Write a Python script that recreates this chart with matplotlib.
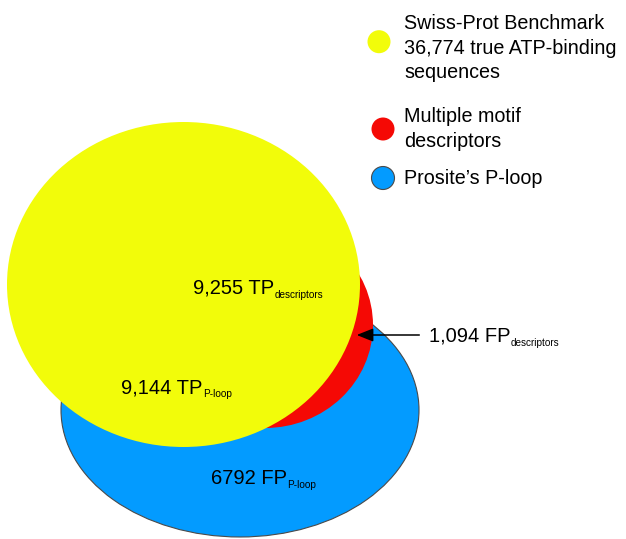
import matplotlib
matplotlib.use('Agg')
import matplotlib.pyplot as plt
from matplotlib.patches import Ellipse, Circle

FONT = ['Liberation Sans', 'DejaVu Sans']

# ---- data ----
set_names = ["Swiss-Prot Benchmark\n36,774 true ATP-binding\nsequences",
             "Multiple motif\ndescriptors",
             "Prosite\u2019s P-loop"]
set_colors = ['#F2FC0A', '#F50905', '#039BFF']
region_counts = ["9,255", "9,144", "6792", "1,094"]
region_kinds = ["TP", "TP", "FP", "FP"]
region_subs = ["descriptors", "P-loop", "P-loop", "descriptors"]

# ---- layout (pixel coordinates, y downward) ----
W, H = 626, 539
fig = plt.figure(figsize=(W / 100, H / 100), dpi=100)
ax = fig.add_axes([0, 0, 1, 1])
ax.set_xlim(0, W)
ax.set_ylim(H, 0)
ax.set_axis_off()

# ellipses: blue (bottom), red (middle), yellow (top)
ell_geom = {2: ((240, 410), 358, 254), 1: ((265, 325), 216, 206), 0: ((183.5, 284.5), 353, 325)}
for idx, z in [(2, 1), (1, 2), (0, 3)]:
    (cx, cy), w, h = ell_geom[idx]
    ec = '#4a4a4a' if idx == 2 else 'none'
    lw = 0.8 if idx == 2 else 0
    ax.add_patch(Ellipse((cx, cy), w, h, facecolor=set_colors[idx], edgecolor=ec, lw=lw, zorder=z))

# legend
leg_circles = [(379, 41.7), (383, 129), (383, 178)]
leg_first_baseline = [29.3, 122.5, 184.3]
leg_spacing = 24.5
for i, name in enumerate(set_names):
    cx, cy = leg_circles[i]
    ec = '#4a4a4a' if i == 2 else 'none'
    lw = 0.8 if i == 2 else 0
    ax.add_patch(Ellipse((cx, cy), 23, 23, facecolor=set_colors[i], edgecolor=ec, lw=lw, zorder=5))
    for j, line in enumerate(name.split('\n')):
        ax.text(404, leg_first_baseline[i] + j * leg_spacing, line, fontsize=14.2,
                family=FONT, ha='left', va='baseline', color='black', zorder=6)

# region labels with subscripts
label_pos = [(193.3, 294), (121, 393), (211, 484), (429, 341.3)]
fig.canvas.draw()
renderer = fig.canvas.get_renderer()
inv = ax.transData.inverted()
for (x, y), cnt, kind, sub in zip(label_pos, region_counts, region_kinds, region_subs):
    t = ax.text(x, y, f"{cnt} {kind}", fontsize=14.5, family=FONT, ha='left',
                va='baseline', color='black', zorder=7)
    bb = t.get_window_extent(renderer=renderer)
    xe = inv.transform((bb.x1, bb.y0))[0]
    ax.text(xe + 0.3, y + 4.4, sub, fontsize=7.2, family=FONT, ha='left',
            va='baseline', color='black', zorder=7)

# arrow to FP descriptors region
ax.annotate("", xy=(356.7, 335), xytext=(419.3, 335),
            arrowprops=dict(arrowstyle='-|>,head_length=1.0,head_width=0.4',
                            mutation_scale=10, lw=1.1, color='black',
                            shrinkA=0, shrinkB=0), zorder=8)

fig.savefig('out.png', dpi=100, facecolor='white')
